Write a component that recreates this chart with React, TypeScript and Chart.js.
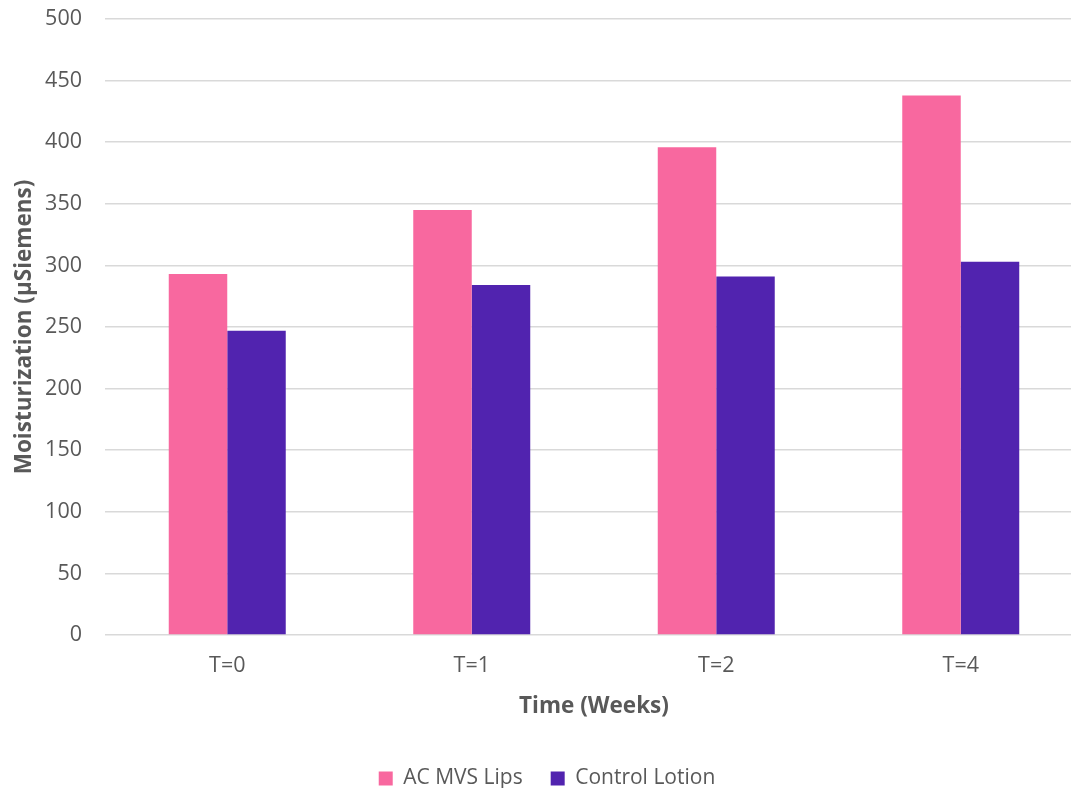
import React, { useEffect, useRef } from "react";
import { Chart, registerables } from "chart.js";

Chart.register(...registerables);

const categories = ["T=0", "T=1", "T=2", "T=4"];
const acMvsLips = [293, 345, 396, 438];
const controlLotion = [247, 284, 291, 303];
const seriesNames = ["AC MVS Lips", "Control Lotion"];
const yTitle = "Moisturization (µSiemens)";
const xTitle = "Time (Weeks)";

const FONT = "'Open Sans', 'Noto Sans', sans-serif";
const TEXT = "#595959";

export default function App() {
  const ref = useRef<HTMLCanvasElement | null>(null);

  useEffect(() => {
    if (!ref.current) return;
    const chart = new Chart(ref.current, {
      type: "bar",
      data: {
        labels: categories,
        datasets: [
          {
            label: seriesNames[0],
            data: acMvsLips,
            backgroundColor: "#F8689F",
            borderWidth: 0,
          },
          {
            label: seriesNames[1],
            data: controlLotion,
            backgroundColor: "#5123AF",
            borderWidth: 0,
          },
        ],
      },
      options: {
        animation: false,
        responsive: true,
        maintainAspectRatio: false,
        layout: { padding: { left: 11, right: 11, top: 19, bottom: 1 } },
        datasets: {
          bar: { categoryPercentage: 0.4785, barPercentage: 1.0 },
        },
        plugins: {
          tooltip: { enabled: false },
          legend: {
            position: "bottom",
            labels: {
              boxWidth: 14,
              boxHeight: 14,
              padding: 28,
              color: TEXT,
              font: { family: FONT, size: 21 },
            },
          },
        },
        scales: {
          x: {
            grid: { display: false, drawTicks: false },
            border: { display: false },
            ticks: { color: TEXT, font: { family: FONT, size: 21.5 }, padding: 18 },
            title: {
              display: true,
              text: xTitle,
              color: TEXT,
              font: { family: FONT, size: 22.5, weight: "bold" },
              padding: { top: 0, bottom: 20 },
            },
            afterFit: (s: any) => {
              s.height = 105;
            },
          },
          y: {
            min: 0,
            max: 500,
            ticks: {
              stepSize: 50,
              color: TEXT,
              font: { family: FONT, size: 21.5 },
              padding: 23,
            },
            grid: { color: "#D9D9D9", lineWidth: 1.5, drawTicks: false },
            border: { display: false },
            title: {
              display: true,
              text: yTitle,
              color: TEXT,
              font: { family: FONT, size: 22.5, weight: "bold" },
              padding: { top: 0, bottom: 0 },
            },
            afterFit: (s: any) => {
              s.width = 94;
              s.paddingTop = 0;
              s.paddingBottom = 0;
            },
          },
        },
      },
    });
    return () => chart.destroy();
  }, []);

  return (
    <div
      style={{
        position: "fixed",
        left: 0,
        top: 0,
        width: 1071,
        height: 788,
        overflow: "hidden",
        background: "#fff",
      }}
    >
      <div style={{ position: "absolute", left: 0, top: 0, width: 1094, height: 800 }}>
        <canvas ref={ref} />
      </div>
    </div>
  );
}
